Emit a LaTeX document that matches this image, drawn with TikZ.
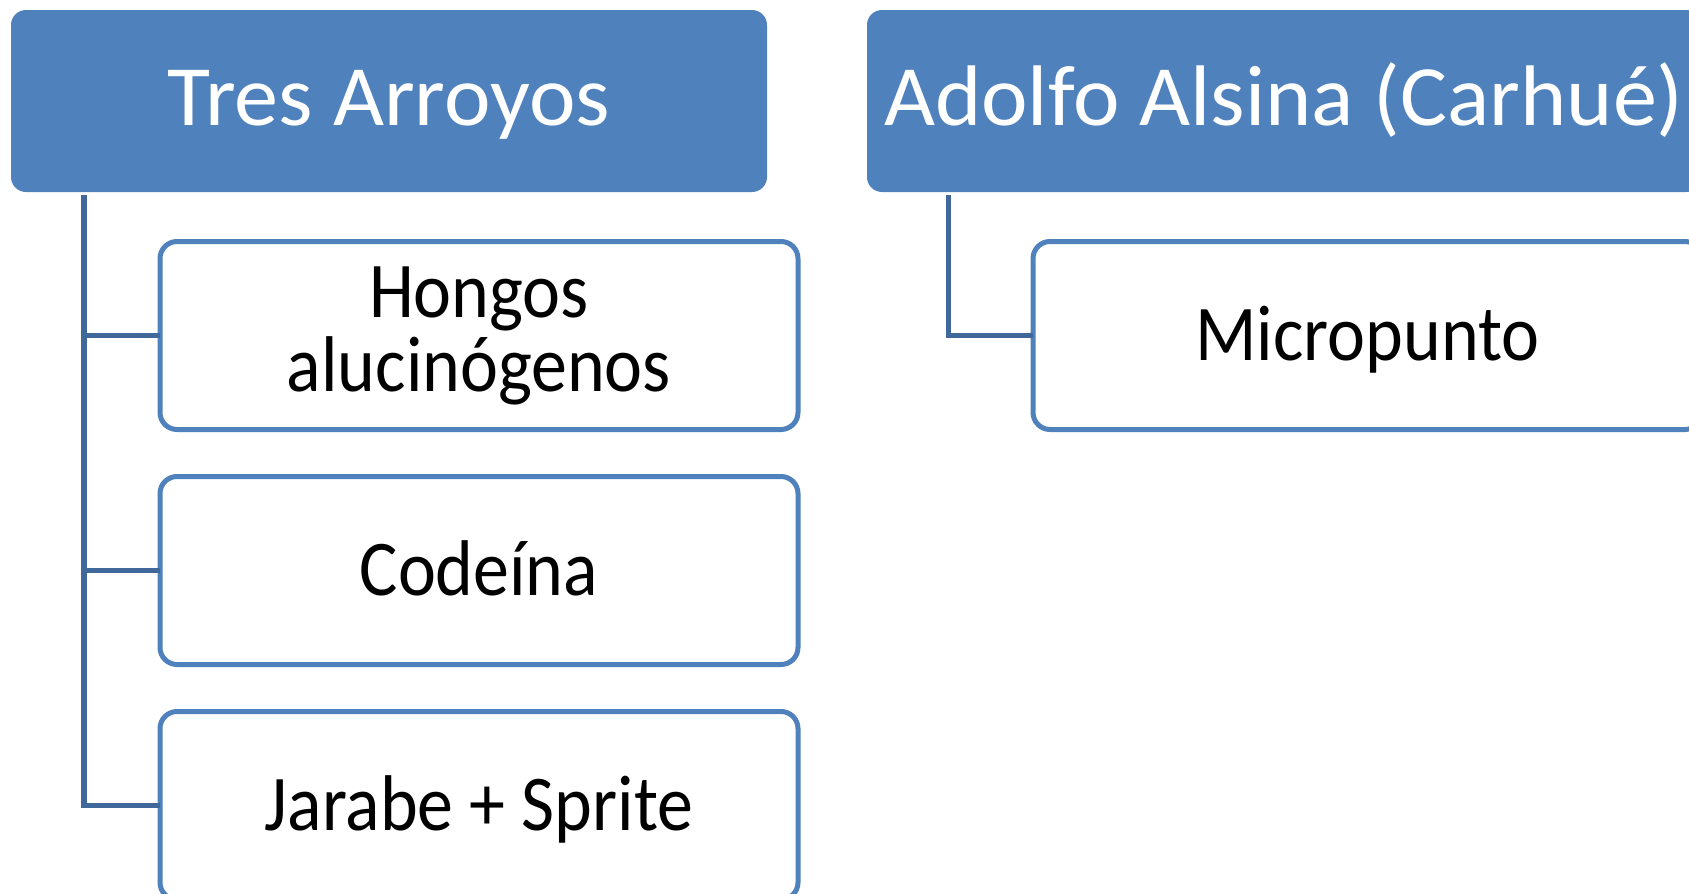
\documentclass[tikz,border=0pt]{standalone}
\usepackage{fontspec}
\setmainfont{Carlito}
\newfontfamily\headfont[FakeStretch=1.025]{Carlito}
\newfontfamily\itemfont[FakeStretch=0.91]{Carlito}
\usetikzlibrary{positioning}
\definecolor{headblue}{RGB}{79,129,189}
\definecolor{linkblue}{RGB}{64,104,154}

\begin{document}
\begin{tikzpicture}[
	header/.style={
		rectangle, rounded corners=15pt, fill=headblue, draw=none,
		minimum height=182pt, inner sep=0pt, outer sep=0pt,
		text=white, font=\headfont\fontsize{86}{86}\selectfont,
		text height=54pt, text depth=6pt
	},
	item/.style={
		rectangle, rounded corners=17pt, draw=headblue, line width=5pt, fill=white,
		minimum width=638pt, minimum height=188pt, inner sep=0pt, outer sep=0pt,
		font=\itemfont\fontsize{79}{74}\selectfont, align=center
	},
	oneline/.style={text height=50pt, text depth=0pt},
	link/.style={draw=linkblue, line width=5.5pt},
	]
	\useasboundingbox (0,0) rectangle (1689pt,-894pt);

	\node[header, minimum width=756pt] (tres) at (389pt,-101pt) {Tres Arroyos};
	\node[header, minimum width=834pt, right=100pt of tres] (adolfo) {Adolfo Alsina (Carhué)};

	\node[item, below right=49.5pt and 149pt of tres.south west] (hongos) {Hongos\\alucinógenos};
	\node[item, oneline, below=47pt of hongos] (codeina) {Codeína};
	\node[item, oneline, below=47pt of codeina] (jarabe) {Jarabe + Sprite};
	\node[item, oneline, minimum width=669pt, below right=49.5pt and 166pt of adolfo.south west] (micro) {Micropunto};

	\coordinate[below right=3pt and 73pt of tres.south west] (tresroot);
	\coordinate[below right=3pt and 81.3pt of adolfo.south west] (adolforoot);

	\draw[link] (tresroot) |- (hongos.west);
	\draw[link] (tresroot) |- (codeina.west);
	\draw[link] (tresroot) |- (jarabe.west);
	\draw[link] (adolforoot) |- (micro.west);

\end{tikzpicture}
\end{document}
